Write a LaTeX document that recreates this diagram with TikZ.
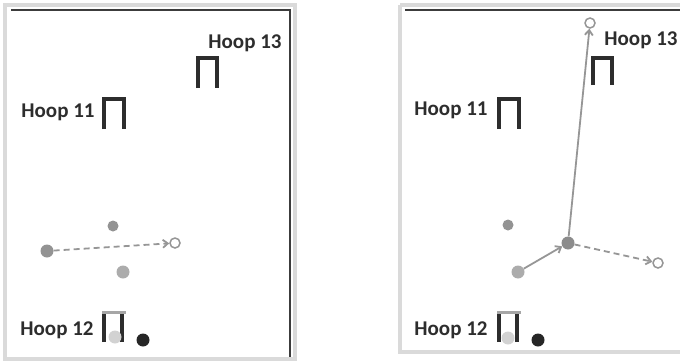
\documentclass[tikz,border=0pt]{standalone}
\usepackage{fontspec}
\setmainfont{Carlito}
\usepackage{tikz}
\usetikzlibrary{arrows.meta}
\definecolor{cFrame}{RGB}{218,218,218}
\definecolor{cEdge}{RGB}{60,60,60}
\definecolor{cHoop}{RGB}{45,45,45}
\definecolor{cShot}{RGB}{150,150,150}
\tikzset{
	hoop/.style   ={draw=cHoop, line width=4.2pt},
	hooptxt/.style={font=\fontsize{21}{24}\selectfont\bfseries, text=cHoop, inner sep=0pt},
	ball/.style   ={circle, inner sep=0pt, minimum size=13pt},
	pawn/.style   ={circle, inner sep=0pt, minimum size=11pt, fill=gray!90},
	target/.style ={circle, inner sep=0pt, minimum size=10pt, draw=cShot, line width=1.5pt, fill=white},
	shot/.style   ={-{Straight Barb[length=5pt, width=8pt]}, draw=cShot, line width=1.8pt},
	plan/.style   ={shot, dash pattern=on 6pt off 4pt},
}
\begin{document}
\begin{tikzpicture}[x=1pt, y=-1pt]
	\useasboundingbox (0,0) rectangle (680,364);
	% panel frames
	\draw[cFrame, line width=3.5pt] (5,5) rectangle (295,359);
	\draw[cEdge, line width=2.4pt] (11,10) -- (290,10) -- (290,357);
	\draw[cFrame, line width=3.5pt] (400,5) -- (400,352) -- (684,352);
	\draw[cFrame, line width=3.5pt] (400,5) -- (684,5);
	\draw[cEdge, line width=2.4pt] (405,10) -- (682,10);
	% hoops in both panels
	\foreach \dx in {0,395} {
		\begin{scope}[xshift=\dx]
			\draw[hoop] (104,129) -- (104,99) -- (124,99) -- (124,129);
			\draw[hoop] (104,342) -- (104,314);
			\draw[hoop] (122,342) -- (122,314);
			\draw[gray!70, line width=3pt] (102,312) -- (126,312);
		\end{scope}
	}
	\draw[hoop] (198,88) -- (198,58) -- (217,58) -- (217,88);
	\draw[hoop] (593,85) -- (593,58) -- (612,58) -- (612,85);
	\node[hooptxt] (t13a) at (245,43) {Hoop 13};
	\node[hooptxt] (t11a) at (58,112) {Hoop 11};
	\node[hooptxt] (t12a) at (57,330) {Hoop 12};
	\node[hooptxt] (t13b) at (641,40) {Hoop 13};
	\node[hooptxt] (t11b) at (451,110) {Hoop 11};
	\node[hooptxt] (t12b) at (451,330) {Hoop 12};
	% left panel: players and planned pass
	\node[pawn, fill=gray!85] (ma) at (113,226) {};
	\node[ball, fill=gray!85] (sa) at (47,251) {};
	\node[ball, fill=gray!65] (la) at (123,272) {};
	\node[ball, fill=gray!35] (ka) at (115,337) {};
	\node[ball, fill=black!85] (ba) at (143,340) {};
	\node[target] (ga) at (175,243) {};
	\draw[plan] (sa) -- (ga);
	% right panel: pass, then shot up and planned pass
	\node[pawn, fill=gray!85] (mb) at (508,225) {};
	\node[ball, fill=gray!90] (cb) at (568,243) {};
	\node[ball, fill=gray!65] (lb) at (518,272) {};
	\node[ball, fill=gray!35] (kb) at (508,338) {};
	\node[ball, fill=black!85] (bb) at (538,340) {};
	\node[target] (ub) at (590,23) {};
	\node[target] (gb) at (658,263) {};
	\draw[shot] (lb) -- (cb);
	\draw[shot] (cb) -- (ub);
	\draw[plan] (cb) -- (gb);
\end{tikzpicture}
\end{document}
